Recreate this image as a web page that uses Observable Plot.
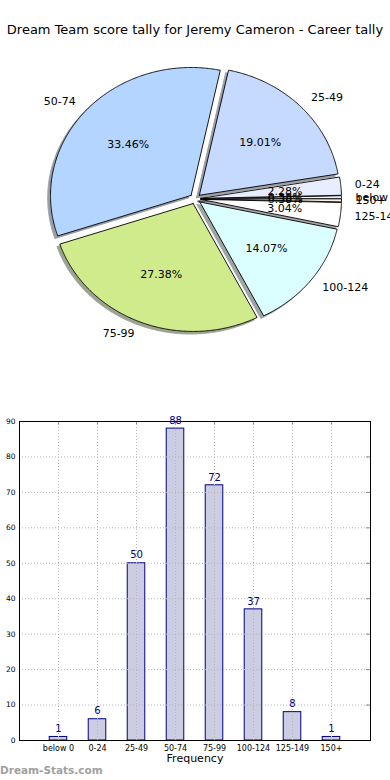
<!DOCTYPE html>
<html>
<head>
<meta charset="utf-8">
<script src="https://cdn.jsdelivr.net/npm/d3@7"></script>
<script src="https://cdn.jsdelivr.net/npm/@observablehq/plot@0.6"></script>
<style>
  html, body { margin: 0; padding: 0; background: #fff; }
  #wrap { position: relative; width: 390px; height: 780px; overflow: hidden; font-family: "DejaVu Sans", sans-serif; }
  #title { position: absolute; left: 0; top: 22px; width: 390px; text-align: center; font-size: 13px; line-height: 16px; color: #000; white-space: nowrap; }
  #pie { position: absolute; left: 0; top: 40px; }
  #bars { position: absolute; left: 0; top: 410px; }
  #mark { position: absolute; left: 0; top: 764px; font-size: 10.5px; line-height: 13px; font-weight: bold; color: #a0a0a0; }
</style>
</head>
<body>
<div id="wrap">
  <div id="title">Dream Team score tally for Jeremy Cameron - Career tally</div>
  <div id="pie"></div>
  <div id="bars"></div>
  <div id="mark">Dream-Stats.com</div>
</div>
<script>
// ---- data ----
const categories = ["below 0", "0-24", "25-49", "50-74", "75-99", "100-124", "125-149", "150+"];
const frequency = [1, 6, 50, 88, 72, 37, 8, 1];
const yTicks = [0, 10, 20, 30, 40, 50, 60, 70, 80, 90];
const titleText = "Dream Team score tally for Jeremy Cameron - Career tally";
const xAxisLabel = "Frequency";

// ---- styles ----
const sliceColors = ["#eef0ff", "#e8eeff", "#c6d9ff", "#b4d5ff", "#cfeb8b", "#dbffff", "#ffffff", "#fff4e8"];
const explode = 0.04;

// ---- pie geometry (from values) ----
const total = d3.sum(frequency);
let cum = 0;
const wedges = frequency.map((v, i) => {
  const a0 = cum / total * 2 * Math.PI;
  cum += v;
  const a1 = cum / total * 2 * Math.PI;
  const mid = (a0 + a1) / 2;
  return { cat: categories[i], v, a0, a1, mid, pct: v / total * 100, color: sliceColors[i],
           ox: explode * Math.cos(mid), oy: explode * Math.sin(mid) };
});
function wedgePoints(w, dx, dy) {
  const pts = [{ x: w.ox + dx, y: w.oy + dy }];
  const n = Math.max(2, Math.ceil((w.a1 - w.a0) / (Math.PI / 360)));
  for (let k = 0; k <= n; k++) {
    const t = w.a0 + (w.a1 - w.a0) * k / n;
    pts.push({ x: w.ox + dx + Math.cos(t), y: w.oy + dy + Math.sin(t) });
  }
  pts.push({ x: w.ox + dx, y: w.oy + dy });
  return pts;
}
function darken(c) {
  const r = d3.rgb(c);
  return d3.rgb(r.r * 0.3, r.g * 0.3, r.b * 0.3).toString();
}

const pieMarks = [];
for (const w of wedges) {
  const dc = darken(w.color);
  pieMarks.push(Plot.line(wedgePoints(w, -0.02, -0.02), { x: "x", y: "y", fill: dc, stroke: dc, strokeWidth: 1, opacity: 0.5, curve: "linear" }));
}
for (const w of wedges) {
  pieMarks.push(Plot.line(wedgePoints(w, 0, 0), { x: "x", y: "y", fill: w.color, stroke: "#000", strokeWidth: 0.9, curve: "linear" }));
}
const lx = d => (explode + 1.1) * Math.cos(d.mid);
const ly = d => (explode + 1.1) * Math.sin(d.mid);
pieMarks.push(Plot.text(wedges.filter(d => Math.cos(d.mid) > 0), { x: lx, y: ly, text: "cat", textAnchor: "start", fontSize: 11, fill: "#000" }));
pieMarks.push(Plot.text(wedges.filter(d => Math.cos(d.mid) <= 0), { x: lx, y: ly, text: "cat", textAnchor: "end", fontSize: 11, fill: "#000" }));
pieMarks.push(Plot.text(wedges, { x: d => (explode + 0.6) * Math.cos(d.mid), y: d => (explode + 0.6) * Math.sin(d.mid), text: d => d.pct.toFixed(2) + "%", fontSize: 11, fill: "#000" }));

const cx = 194.8, cy = 158.3, rx = 140.6, ry = 127.9;
const pie = Plot.plot({
  width: 390, height: 360,
  margin: 0,
  x: { domain: [-1, 1], range: [cx - rx, cx + rx], axis: null },
  y: { domain: [-1, 1], range: [cy + ry, cy - ry], axis: null },
  style: { fontFamily: "DejaVu Sans", background: "transparent", overflow: "hidden" },
  marks: pieMarks
});
document.getElementById("pie").appendChild(pie);

// ---- bar chart ----
const barData = frequency.map((v, i) => ({ i, v, cat: categories[i] }));
const idx = d3.range(categories.length);
const gridStyle = { stroke: "#b5b5b5", strokeOpacity: 1, strokeWidth: 1, strokeDasharray: "1,2" };
const bars = Plot.plot({
  width: 390, height: 370,
  marginTop: 11, marginBottom: 40, marginLeft: 19, marginRight: 20,
  x: { domain: [-1, 8], axis: null },
  y: { domain: [0, 90], axis: null },
  style: { fontFamily: "DejaVu Sans", background: "transparent", overflow: "visible" },
  marks: [
    Plot.rect(barData, { x1: d => d.i - 0.225, x2: d => d.i + 0.225, y1: 0, y2: "v", fill: "#ccccE2", stroke: "#00007f", strokeWidth: 1 }),
    Plot.gridX(idx, gridStyle),
    Plot.gridY(yTicks.slice(1, -1), gridStyle),
    Plot.ruleX(idx, { x: d => d, y1: 90, y2: 89.1, stroke: "#888", strokeWidth: 1 }),
    Plot.ruleY(yTicks.slice(1, -1), { y: d => d, x1: 8, x2: 7.9, stroke: "#888", strokeWidth: 1 }),
    Plot.frame({ stroke: "#000", strokeWidth: 1 }),
    Plot.axisX(idx, { tickSize: 0, tickPadding: 5, tickFormat: i => categories[i], fontSize: 8, label: null, fill: "#000" }),
    Plot.axisY(yTicks, { tickSize: 0, tickPadding: 4, fontSize: 7.5, label: null, fill: "#000" }),
    Plot.text(barData, { x: "i", y: "v", text: d => String(d.v), dy: -8, fill: "#00007f", fontSize: 10 }),
    Plot.text([xAxisLabel], { frameAnchor: "bottom", dy: 21, fontSize: 11, fill: "#000" })
  ]
});
document.getElementById("bars").appendChild(bars);
document.getElementById("title").textContent = titleText;
</script>
</body>
</html>
